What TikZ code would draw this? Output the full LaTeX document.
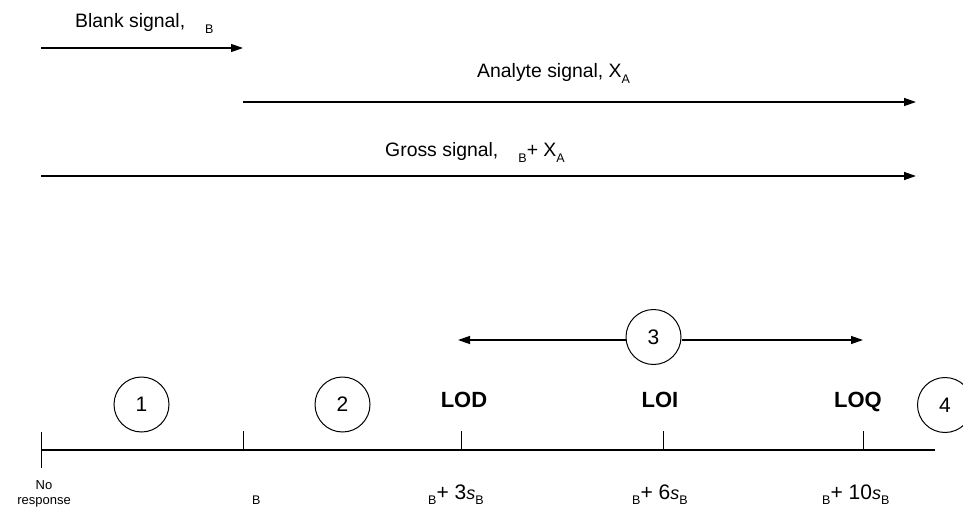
\documentclass[tikz,border=0pt]{standalone}
\usepackage{fontspec}
\setmainfont{Liberation Sans}
\usetikzlibrary{arrows.meta}
\newcommand{\sB}{\raisebox{-0.28em}{\fontsize{12.5}{13}\selectfont B}}
\newcommand{\sA}{\raisebox{-0.28em}{\fontsize{12.5}{13}\selectfont A}}
\newcommand{\myS}{{\fontsize{18}{20}\selectfont\itshape s}}
\begin{document}
\begin{tikzpicture}[x=1pt,y=-1pt,
  sig/.style={line width=1.3pt,-{Triangle[length=12pt,width=8pt]}},
  lbl/.style={font=\fontsize{19.4}{23}\selectfont, inner sep=0pt},
  blbl/.style={font=\fontsize{21}{23}\selectfont, inner sep=0pt},
  small/.style={font=\fontsize{13}{15}\selectfont, inner sep=0pt, align=center},
  num/.style={draw,circle,line width=1pt,minimum size=55pt,inner sep=0pt,font=\fontsize{21}{24}\selectfont},
  lim/.style={font=\bfseries\fontsize{22}{24}\selectfont,inner sep=0pt},
  tck/.style={line width=1pt},
  axis/.style={line width=1.3pt}]
\useasboundingbox (0,0) rectangle (963,508);
% top arrows
\coordinate (b0) at (41,48);
\coordinate (b1) at (243,48);
\coordinate (a0) at (243,102);
\coordinate (a1) at (916,102);
\coordinate (g0) at (41,176);
\coordinate (g1) at (916,176);
\draw[sig] (b0) -- (b1);
\draw[sig] (a0) -- (a1);
\draw[sig] (g0) -- (g1);
\node[lbl,anchor=base west] (lblank) at (75,28) {Blank signal,\hspace{20pt}\sB};
\node[lbl,anchor=base west] (lanalyte) at (477,78) {Analyte signal, X\sA};
\node[lbl,anchor=base west] (lgross) at (385,157) {Gross signal,\hspace{20pt}\sB+ X\sA};
% axis
\coordinate (t0) at (41,450);
\coordinate (t1) at (243,450);
\coordinate (t2) at (461,450);
\coordinate (t3) at (663,450);
\coordinate (t4) at (863,450);
\coordinate (aend) at (935,450);
\draw[axis] (t0) -- (aend);
\draw[tck] (t0) ++(0,-18) -- ++(0,36);
\draw[tck] (t1) -- ++(0,-19);
\draw[tck] (t2) -- ++(0,-19);
\draw[tck] (t3) -- ++(0,-19);
\draw[tck] (t4) -- ++(0,-19);
% circles
\node[num] (c1) at (141.5,404.5) {1};
\node[num] (c2) at (342.5,404.5) {2};
\node[num] (c3) at (653.5,337) {3};
\node[num] (c4) at (945,405) {4};
% double arrow
\coordinate (dl) at (458,340);
\coordinate (dr) at (863,340);
\draw[sig] (c3.west |- dl) -- (dl);
\draw[sig] (c3.east |- dr) -- (dr);
% limits
\node[lim,anchor=base] (lod) at (464,407) {LOD};
\node[lim,anchor=base] (loi) at (660,407) {LOI};
\node[lim,anchor=base] (loq) at (858,407) {LOQ};
% bottom labels
\node[small,anchor=base] (nr) at (44,504) {No\\response};
\node[blbl,anchor=base west] (xb) at (252,499) {\sB};
\node[blbl,anchor=base west] (x3) at (428,499) {\sB+ 3\myS\sB};
\node[blbl,anchor=base west] (x6) at (632,499) {\sB+ 6\myS\sB};
\node[blbl,anchor=base west] (x10) at (822,499) {\sB+ 10\myS\sB};
\end{tikzpicture}
\end{document}
